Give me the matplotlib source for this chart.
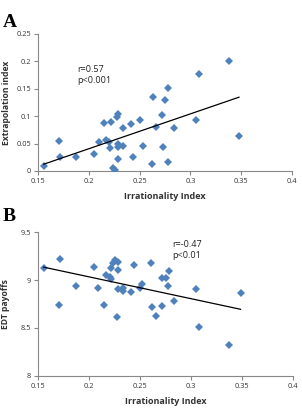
import numpy as np
import matplotlib
matplotlib.use("Agg")
import matplotlib.pyplot as plt

# Panel A: irrationality index vs extrapolation index
irr_a = [0.1556, 0.1707, 0.1720, 0.1874, 0.2051, 0.2097, 0.2150, 0.2173, 0.2196,
         0.2212, 0.2215, 0.2278, 0.2284, 0.2284, 0.2291, 0.2284, 0.2238, 0.2258,
         0.2333, 0.2337, 0.2415, 0.2432, 0.2504, 0.2533, 0.2619, 0.2632, 0.2665,
         0.2717, 0.2727, 0.2753, 0.2780, 0.2780, 0.2842, 0.3052, 0.3081, 0.3377,
         0.3478]
extrap = [0.0097, 0.0553, 0.0249, 0.0249, 0.0316, 0.0535, 0.0882, 0.0560, 0.0535,
          0.0414, 0.0894, 0.0979, 0.1040, 0.0493, 0.0432, 0.0225, 0.0061, 0.0024,
          0.0462, 0.0791, 0.0864, 0.0255, 0.0925, 0.0462, 0.0122, 0.1350, 0.0809,
          0.1022, 0.0432, 0.1302, 0.1515, 0.0164, 0.0779, 0.0925, 0.1764, 0.2007,
          0.0633]

# Panel B: irrationality index vs EDT payoffs
irr_b = [0.1555, 0.1717, 0.1701, 0.1870, 0.2045, 0.2090, 0.2142, 0.2165, 0.2203,
         0.2210, 0.2210, 0.2236, 0.2255, 0.2288, 0.2284, 0.2288, 0.2333, 0.2330,
         0.2271, 0.2408, 0.2437, 0.2495, 0.2521, 0.2609, 0.2618, 0.2660, 0.2712,
         0.2719, 0.2754, 0.2774, 0.2780, 0.2836, 0.3049, 0.3079, 0.3374, 0.3484]
edt = [9.130, 9.221, 8.740, 8.935, 9.137, 8.921, 8.740, 9.050, 9.036,
       9.008, 9.130, 9.176, 9.204, 9.186, 9.106, 8.904, 8.914, 8.890,
       8.611, 8.876, 9.155, 8.914, 8.959, 9.176, 8.722, 8.625, 8.726,
       9.019, 9.019, 8.942, 9.095, 8.781, 8.904, 8.506, 8.325, 8.865]

x_ticks = [0.15, 0.2, 0.25, 0.3, 0.35, 0.4]
x_labels = ["0.15", "0.2", "0.25", "0.3", "0.35", "0.4"]
ya_ticks = [0, 0.05, 0.1, 0.15, 0.2, 0.25]
ya_labels = ["0", "0.05", "0.1", "0.15", "0.2", "0.25"]
yb_ticks = [8, 8.5, 9, 9.5]
yb_labels = ["8", "8.5", "9", "9.5"]

plt.rcParams['font.family'] = ['Open Sans', 'DejaVu Sans']

blue = '#4F81BD'
gray = '#888888'

fig = plt.figure(figsize=(3.02, 4.08), dpi=100)
axA = fig.add_axes([0.126, 0.581, 0.841, 0.336])
axB = fig.add_axes([0.126, 0.079, 0.845, 0.352])


def style(ax):
    for s in ['top', 'right']:
        ax.spines[s].set_visible(False)
    for s in ['left', 'bottom']:
        ax.spines[s].set_color(gray)
        ax.spines[s].set_linewidth(0.8)
    ax.tick_params(axis='both', colors=gray, labelcolor='#333333',
                   labelsize=5.3, length=3, width=0.8, pad=2)


def panel(ax, x, y, yticks, ylabels, ylabel, txt, txt_xy, xlab_y):
    ax.plot(x, y, linestyle='none', marker='D', markersize=3.9,
            color=blue, markeredgewidth=0, zorder=3)
    k, b = np.polyfit(x, y, 1)
    xs = np.array([min(x), max(x)])
    ax.plot(xs, k * xs + b, color='black', linewidth=0.9, zorder=4)
    ax.set_xlim(0.15, 0.4)
    ax.set_ylim(yticks[0], yticks[-1])
    ax.set_xticks(x_ticks)
    ax.set_xticklabels(x_labels)
    ax.set_yticks(yticks)
    ax.set_yticklabels(ylabels)
    ax.set_xlabel("Irrationality Index", fontsize=6.5, fontweight='bold',
                  color='#333333')
    ax.set_ylabel(ylabel, fontsize=6.2, fontweight='bold', color='#333333')
    ax.xaxis.set_label_coords(0.5, xlab_y)
    ax.yaxis.set_label_coords(-0.108, 0.5)
    ax.text(txt_xy[0], txt_xy[1], txt, fontsize=6.5, color='#222222',
            va='top', ha='left', linespacing=1.3)
    style(ax)


panel(axA, irr_a, extrap, ya_ticks, ya_labels, "Extrapolation index",
      "r=0.57\np<0.001", (0.189, 0.193), -0.155)
panel(axB, irr_b, edt, yb_ticks, yb_labels, "EDT payoffs",
      "r=-0.47\np<0.01", (0.281, 9.42), -0.15)

fig.text(0.01, 0.945, "A", fontsize=14, fontweight='bold',
         family='Liberation Serif', va='center', ha='left')
fig.text(0.01, 0.47, "B", fontsize=14, fontweight='bold',
         family='Liberation Serif', va='center', ha='left')

fig.savefig("out.png", dpi=100)
